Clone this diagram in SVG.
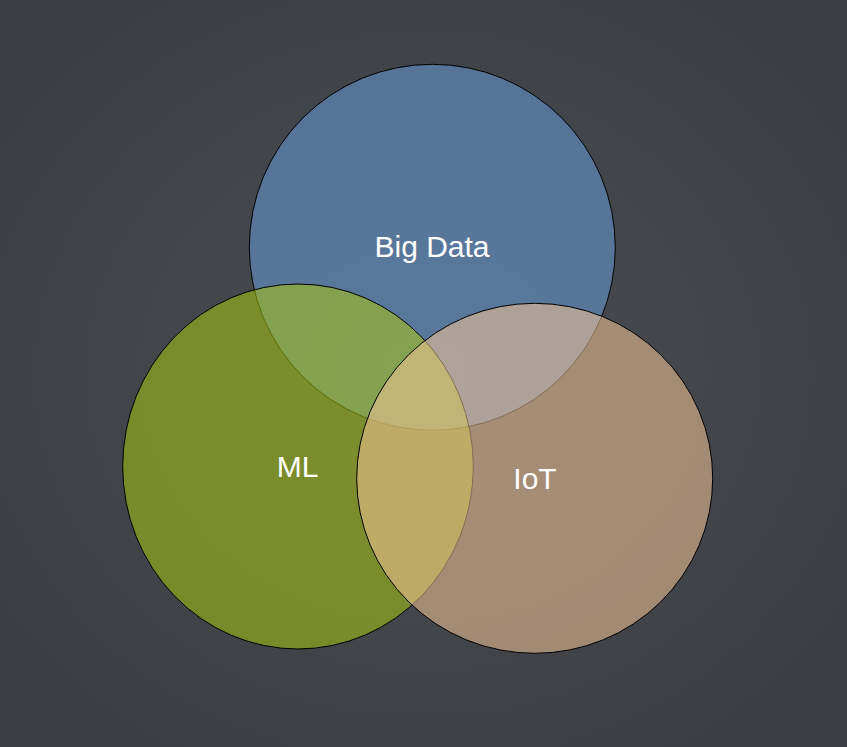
<svg xmlns="http://www.w3.org/2000/svg" width="847" height="747" viewBox="0 0 847 747">
  <defs>
    <radialGradient id="bg" cx="50%" cy="50%" r="65%">
      <stop offset="0" stop-color="#4a4d52"/>
      <stop offset="1" stop-color="#3a3d42"/>
    </radialGradient>
    <style>
      .set { stroke: #000; stroke-width: 1; fill-opacity: 0.55; }
      .label { font-family: "Liberation Sans", Arial, sans-serif; font-size: 30px; fill: #ffffff; text-anchor: middle; }
    </style>
  </defs>
  <rect x="0" y="0" width="847" height="747" fill="url(#bg)"/>
  <g id="connectors"></g>
  <g id="node-bigdata">
    <circle class="set" cx="432.3" cy="247.3" r="183" fill="#689cd8"/>
  </g>
  <g id="node-ml">
    <ellipse class="set" cx="298" cy="466.5" rx="175.3" ry="182.5" fill="#a8c410"/>
  </g>
  <g id="node-iot">
    <ellipse class="set" cx="534.7" cy="478.3" rx="178" ry="175" fill="#f4c597"/>
  </g>
  <g id="labels">
    <text class="label" x="432" y="257">Big Data</text>
    <text class="label" x="297.5" y="477">ML</text>
    <text class="label" x="535" y="489">IoT</text>
  </g>
</svg>
